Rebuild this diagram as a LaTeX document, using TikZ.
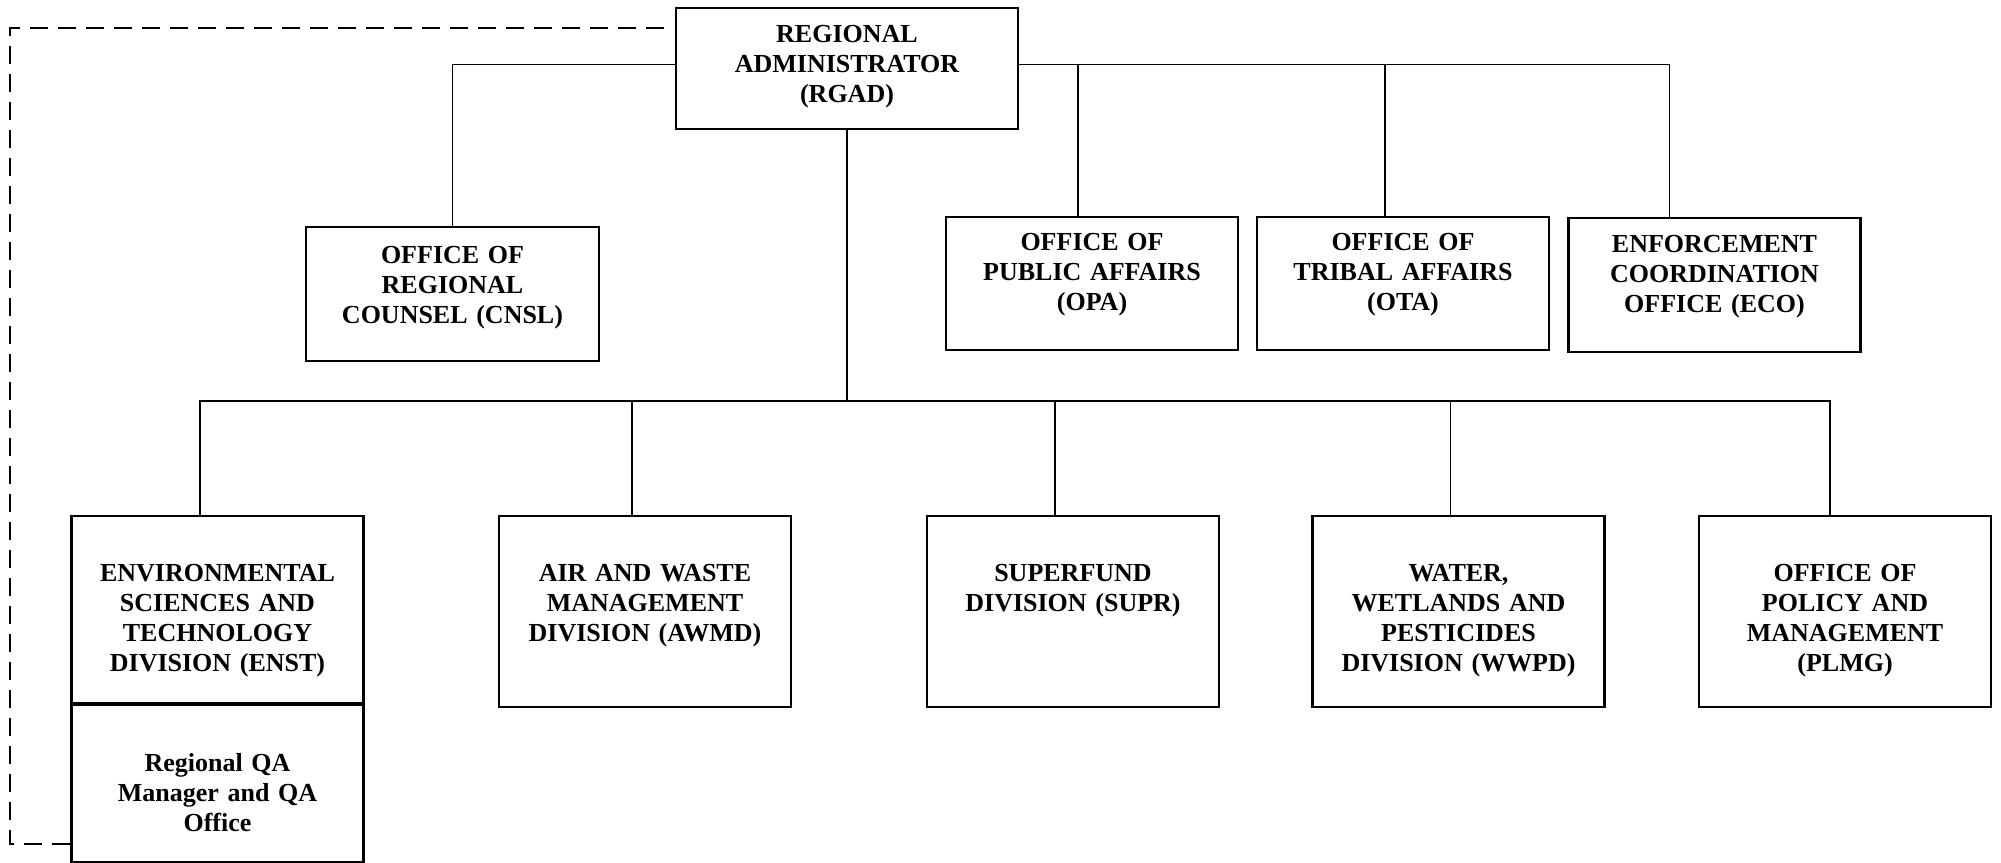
\documentclass[tikz,border=0pt]{standalone}
\usepackage{fontspec}
\setmainfont{Liberation Serif}
\usepackage{tikz}
\usetikzlibrary{positioning}
\tikzset{
  unit/.style 2 args={
    rectangle,
    draw=black, line width=1.1pt,
    inner sep=0pt,
    text width=138pt,
    minimum width=146pt,
    align=center,
    font=\bfseries\fontsize{13}{15}\selectfont,
    text height=#1,
    text depth=#2},
  link/.style={draw, line width=0.85pt},
  dashline/.style={draw, line width=0.8pt, dash pattern=on 9pt off 5pt},
}

\begin{document}
\begin{tikzpicture}[x=0.5pt, y=0.5pt]
  \useasboundingbox (0,0) rectangle (2001,862);

  \node[unit={17.25pt}{43.25pt}, minimum width=171pt, text width=160pt] (rgad) at (847,793.5)
    {REGIONAL\\ADMINISTRATOR\\(RGAD)};

  \node[unit={18.25pt}{48.75pt}, minimum width=146.5pt] (cnsl) at (452.5,568)
    {OFFICE OF\\REGIONAL\\COUNSEL (CNSL)};
  \node[unit={16.75pt}{49.75pt}] (opa) at (1092,578.5)
    {OFFICE OF\\PUBLIC AFFAIRS\\(OPA)};
  \node[unit={16.75pt}{49.75pt}] (ota) at (1403,578.5)
    {OFFICE OF\\TRIBAL AFFAIRS\\(OTA)};
  \node[unit={17.25pt}{49.75pt}] (eco) at (1714.5,577)
    {ENFORCEMENT\\COORDINATION\\OFFICE (ECO)};

  \node[unit={32.75pt}{60.75pt}] (enst) at (217.5,252.5)
    {ENVIRONMENTAL\\SCIENCES AND\\TECHNOLOGY\\DIVISION (ENST)};
  \node[unit={33.25pt}{45.25pt}, below=0pt of enst] (qa)
    {Regional QA\\Manager and QA\\Office};
  \node[unit={32.75pt}{62.75pt}] (awmd) at (645,250.5)
    {AIR AND WASTE\\MANAGEMENT\\DIVISION (AWMD)};
  \node[unit={32.75pt}{62.75pt}] (supr) at (1073,250.5)
    {SUPERFUND\\DIVISION (SUPR)};
  \node[unit={32.75pt}{62.75pt}] (wwpd) at (1458.5,250.5)
    {WATER,\\WETLANDS AND\\PESTICIDES\\DIVISION (WWPD)};
  \node[unit={32.75pt}{62.75pt}] (plmg) at (1845,250.5)
    {OFFICE OF\\POLICY AND\\MANAGEMENT\\(PLMG)};

  % staff offices
  \path[link] ([yshift=2pt]rgad.west) -| (cnsl.north);
  \path[link] ([yshift=2pt]rgad.east) -| ([xshift=-22.5pt]eco.north);
  \foreach \n/\s in {opa/-7pt, ota/-9pt}
    \path[link] ([xshift=\s]\n.north) -- ([xshift=\s,yshift=2pt]\n.north |- rgad.east);

  % divisions
  \coordinate (bus) at (847,461);
  \path[link] (rgad) -- (bus);
  \path[link] ([xshift=-8.75pt]enst.north) |- (bus) -| ([xshift=-7.5pt]plmg.north);
  \foreach \n/\s in {awmd/-6.5pt, supr/-9pt, wwpd/-4pt}
    \path[link] ([xshift=\s]\n.north) -- ([xshift=\s]\n.north |- bus);

  % QA reporting line
  \coordinate (dtop) at (664,834);
  \coordinate (dbottom) at (10,18);
  \path[dashline] (dtop) -| (dbottom) -- (qa.west |- dbottom);
\end{tikzpicture}
\end{document}
